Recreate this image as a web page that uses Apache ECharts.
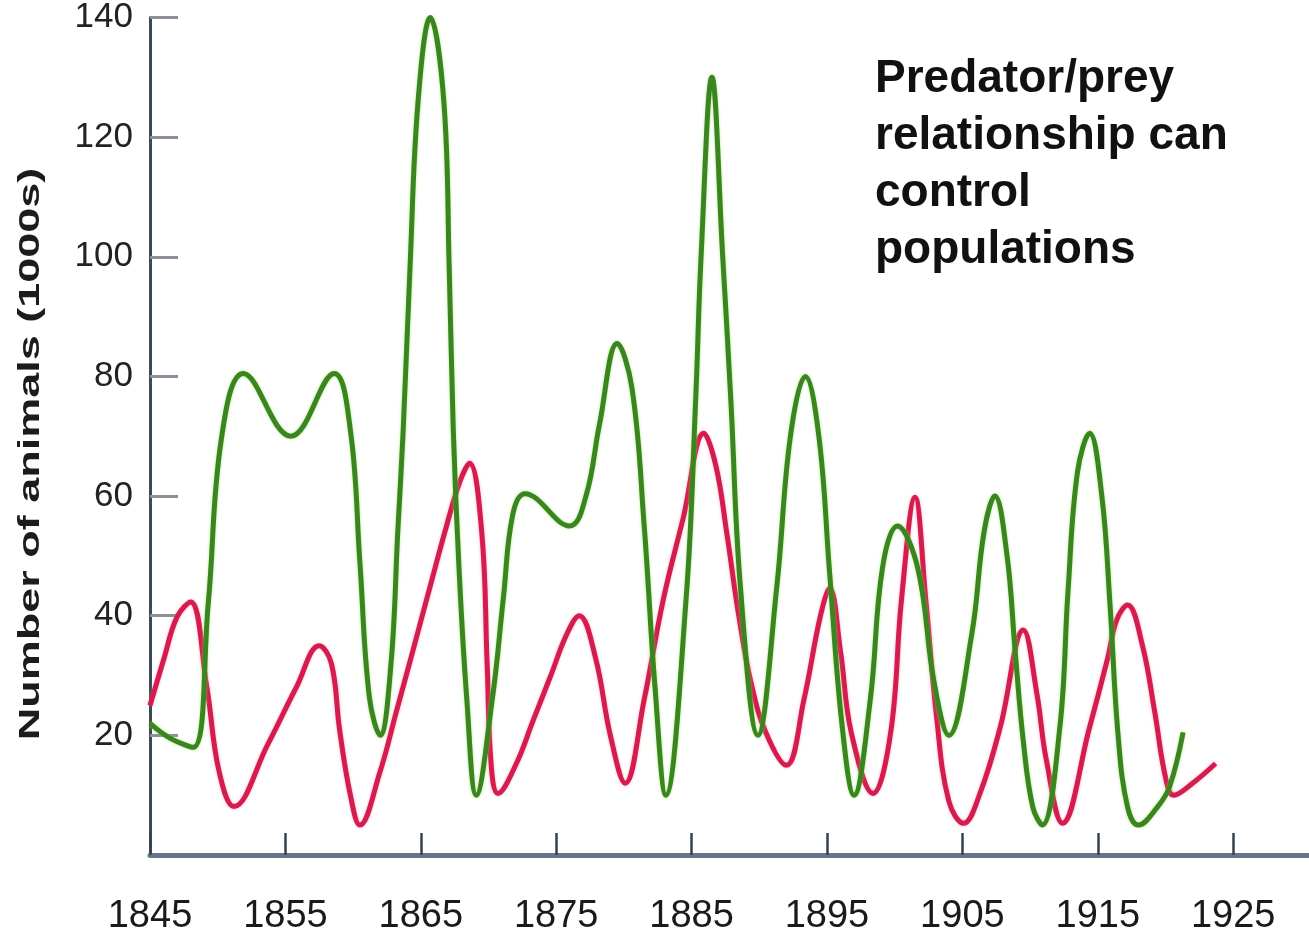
<!DOCTYPE html>
<html>
<head>
<meta charset="utf-8">
<script src="https://cdn.jsdelivr.net/npm/echarts@6/dist/echarts.min.js"></script>
<style>
  html, body { margin: 0; padding: 0; background: #ffffff; }
  #chart { width: 1309px; height: 943px; }
</style>
</head>
<body>
<div id="chart"></div>
<script>
// ---- data ----
const xTickYears = [1845, 1855, 1865, 1875, 1885, 1895, 1905, 1915, 1925];
const xTickLabels = ['1845', '1855', '1865', '1875', '1885', '1895', '1905', '1915', '1925'];
const yTickValues = [20, 40, 60, 80, 100, 120, 140];

// green curve (prey)
const preyYears = [1845.0,1846.5,1848.2,1849.3,1850.3,1851.9,1855.4,1858.6,1859.8,1860.5,1861.2,1862.0,1862.8,1863.3,1863.7,1864.2,1864.8,1865.7,1866.7,1867.1,1867.4,1867.8,1868.4,1869.1,1870.3,1871.1,1871.8,1872.7,1876.0,1877.2,1878.2,1879.5,1880.6,1881.5,1882.3,1883.1,1884.6,1885.3,1885.7,1886.5,1887.3,1887.9,1888.6,1889.9,1891.3,1892.3,1893.4,1894.4,1895.2,1896.1,1897.0,1898.2,1899.1,1900.2,1901.7,1902.9,1904.0,1905.7,1906.6,1907.4,1908.3,1908.9,1909.5,1910.2,1910.9,1912.2,1912.8,1913.5,1914.4,1915.3,1915.9,1916.5,1917.2,1918.0,1919.4,1920.3,1921.3];
const preyValues = [22,19.5,18,42,70,80.5,70,80.5,71,49,26.4,20,32,54,71,98,126,140,126,98,71,49,26,10,26.4,43,57,60.4,55,60,72,85.5,78,55,28,10,43,76,100,130,100,76,45,20,45,70,80,70,47,22,10,26,48,55,48,29,20,37,54,60,50,34,19,8,5,21.4,44,64,70.5,60,42,20,8,5,8,11.4,20.5];

// red curve (predator)
const predatorYears = [1845.0,1846.0,1847.0,1848.0,1849.2,1850.1,1851.2,1853.7,1855.8,1857.5,1858.4,1859.0,1859.8,1860.5,1862.0,1863.2,1864.4,1865.7,1866.9,1867.9,1868.6,1869.5,1869.9,1870.2,1870.7,1872.0,1873.3,1874.6,1875.8,1876.7,1877.9,1879.0,1880.1,1881.5,1882.9,1884.4,1885.9,1886.8,1887.6,1888.5,1889.4,1890.5,1892.0,1893.3,1894.5,1895.2,1896.0,1896.8,1898.4,1899.7,1900.5,1901.5,1902.3,1903.1,1904.0,1905.1,1906.3,1907.8,1909.5,1910.5,1911.2,1912.4,1914.4,1915.7,1916.4,1917.2,1918.3,1919.2,1920.0,1920.6,1922.0,1923.7];
const predatorValues = [25,32.6,39.8,42.3,28,14,8.1,18.5,28,35,32,21,10,5,14,24,34,45,55,62.5,65.5,54,32,15,10.3,15,22.5,30,37,40,33,20,12,26,42.6,56.5,70.5,65,53.8,39.8,28.7,20.4,15,26,39.8,44.6,34,20.4,10.3,20.4,42.6,59.8,42.6,23,9,5.3,10.3,21.4,37.6,27,15.9,5.3,21.4,32.6,39.3,41.8,35,24,13,10,12,15.3];

const yAxisTitle = 'Number of animals (1000s)';
const noteText = 'Predator/prey\nrelationship can\ncontrol\npopulations';

// ---- chart ----
const preyData = preyYears.map((y, i) => [y, preyValues[i]]);
const predatorData = predatorYears.map((y, i) => [y, predatorValues[i]]);

const chart = echarts.init(document.getElementById('chart'), null, { renderer: 'canvas' });
const labelFont = "'Liberation Sans', Arial, sans-serif";

chart.setOption({
  animation: false,
  backgroundColor: '#ffffff',
  grid: { left: 150, right: 0, top: 17, bottom: 88, containLabel: false },
  xAxis: {
    type: 'value',
    min: 1845,
    max: 1930.6,
    splitLine: { show: false },
    axisLine: { show: true, onZero: false, lineStyle: { color: '#63768a', width: 5 } },
    axisTick: {
      show: true, inside: true, length: 22,
      customValues: xTickYears,
      lineStyle: { color: '#36434f', width: 2.5 }
    },
    axisLabel: {
      show: true,
      customValues: xTickYears,
      margin: 43,
      fontFamily: labelFont,
      fontSize: 38,
      color: '#1a1a1a',
      formatter: function (v) {
        const i = xTickYears.indexOf(Math.round(v));
        return i >= 0 ? xTickLabels[i] : '';
      }
    }
  },
  yAxis: {
    type: 'value',
    min: 0,
    max: 140,
    interval: 20,
    splitLine: { show: false },
    axisLine: { show: true, onZero: false, lineStyle: { color: '#3c4a58', width: 3 } },
    axisTick: {
      show: true, inside: true, length: 28,
      customValues: yTickValues,
      lineStyle: { color: '#8a9097', width: 3 }
    },
    axisLabel: {
      show: true,
      customValues: yTickValues,
      margin: 17,
      fontFamily: labelFont,
      fontSize: 35,
      color: '#222222'
    }
  },
  graphic: [
    {
      type: 'text',
      x: 31,
      y: 454,
      rotation: Math.PI / 2,
      scaleX: 1.5,
      scaleY: 1,
      style: {
        text: yAxisTitle,
        x: 0, y: 0,
        align: 'center', verticalAlign: 'middle',
        textAlign: 'center', textVerticalAlign: 'middle',
        font: "bold 30px 'Liberation Sans', Arial, sans-serif",
        fill: '#1c1c1c'
      }
    },
    {
      type: 'text',
      x: 875,
      y: 51,
      style: {
        text: noteText,
        x: 0, y: 0,
        align: 'left', verticalAlign: 'top',
        textAlign: 'left', textVerticalAlign: 'top',
        font: "bold 46px 'Liberation Sans', Arial, sans-serif",
        lineHeight: 57,
        fill: '#111111'
      }
    }
  ],
  series: [
    {
      name: 'prey',
      type: 'line',
      data: preyData,
      smooth: 0.4,
      showSymbol: false,
      symbol: 'none',
      lineStyle: { color: '#3a8520', width: 5, shadowColor: 'rgba(140,230,90,0.7)', shadowBlur: 3 },
      z: 3
    },
    {
      name: 'predator',
      type: 'line',
      data: predatorData,
      smooth: 0.4,
      showSymbol: false,
      symbol: 'none',
      lineStyle: { color: '#d41c4e', width: 5, shadowColor: 'rgba(240,120,150,0.6)', shadowBlur: 3 },
      z: 2
    }
  ]
});
</script>
</body>
</html>
